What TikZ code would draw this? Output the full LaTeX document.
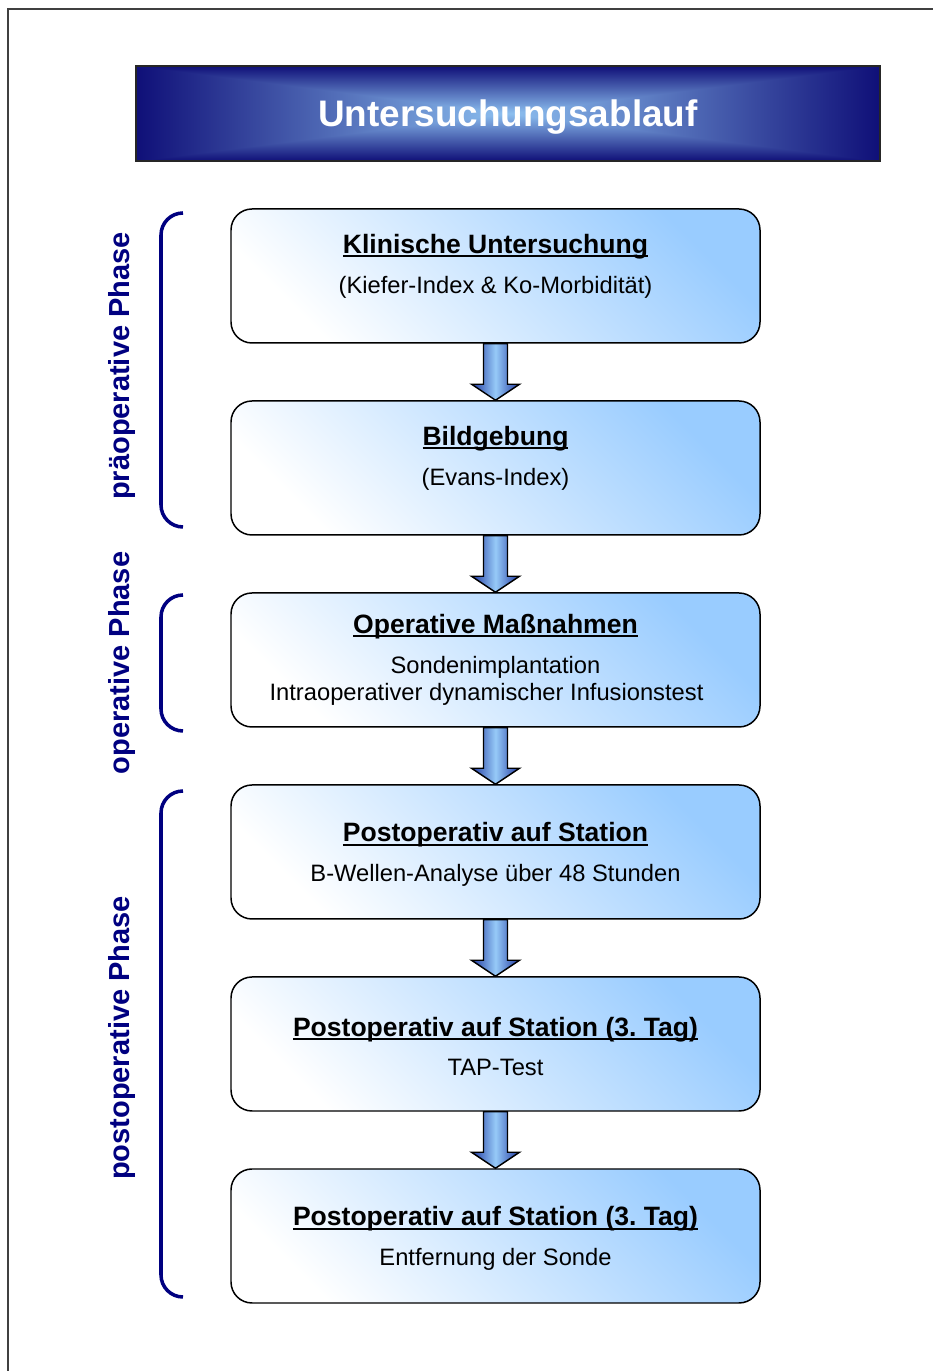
\documentclass[tikz,border=0pt]{standalone}
\usepackage{fontspec}
\setmainfont{Liberation Sans}
\frenchspacing
\usetikzlibrary{
  calc,      % 坐标计算（箭头轮廓）
  positioning
}
\definecolor{phasenavy}{RGB}{0,0,128}
\definecolor{boxblue}{RGB}{153,204,255}
\definecolor{arrowdark}{RGB}{32,56,160}
\definecolor{arrowlight}{RGB}{150,202,248}
% 标题栏：由中心向四边变暗的矩形渐变（路径对应 25bp--75bp）
\pgfdeclarefunctionalshading{headbar}{\pgfpointorigin}{\pgfpoint{100bp}{100bp}}{}{
  50 sub abs exch 50 sub abs 2 copy lt {exch} if pop 25 div
  dup 1 gt {pop 1} if
  dup -0.49 mul 0.55 add exch dup -0.69 mul 0.75 add exch -0.47 mul 0.94 add
}
% 加粗并带下划线的框标题
\newcommand{\boxtitle}[1]{%
  \setbox0\hbox{\bfseries\fontsize{15.1}{18}\selectfont #1}%
  \rlap{\rule[-0.16em]{\wd0}{1.1pt}}\box0}
\tikzset{
  headbar/.style={
    rectangle,
    shade,
    shading=headbar,
    draw=black!85,
    line width=0.8pt,
    minimum width=14.88cm,
    minimum height=1.9cm,
    text depth=0pt,
    text=white,
    font=\bfseries\fontsize{21}{25}\selectfont
  },
  phasebox/.style={
    rectangle,
    rounded corners=0.42cm,
    draw=black,
    line width=0.85pt,
    top color=boxblue,
    bottom color=white,
    shading angle=-45,
    minimum width=10.58cm,
    minimum height=2.68cm
  },
  boxtext/.style={
    align=center,
    font=\fontsize{13.5}{15.9}\selectfont
  },
  blockarrow/.style={
    draw=black,
    line width=0.8pt,
    left color=arrowdark,
    right color=arrowdark,
    middle color=arrowlight
  },
  phaselabel/.style={
    rotate=90,
    text=phasenavy,
    font=\bfseries\fontsize{16.5}{20}\selectfont
  },
  phasebrace/.style={
    draw=phasenavy,
    line width=2pt,
    rounded corners=0.44cm
  }
}

\begin{document}
\begin{tikzpicture}
    \useasboundingbox (0,0) rectangle (18.66,27.42);

    % --- 外框 (只有左边和上边) ---
    \draw[black!75, line width=0.8pt] (0.16,0) -- (0.16,27.24) -- (18.66,27.24);

    % --- 标题栏 ---
    \node[headbar] (kopf) at (10.16,25.15) {Untersuchungsablauf};

    % --- 六个流程框 ---
    \node[phasebox] (klinik) at (9.91,21.9) {};
    \node[phasebox] (bild) at (9.91,18.06) {};
    \node[phasebox] (op) at (9.91,14.22) {};
    \node[phasebox] (station) at (9.91,10.38) {};
    \node[phasebox] (tap) at (9.91,6.54) {};
    \node[phasebox] (sonde) at (9.91,2.7) {};

    % 框内文字
    \node[boxtext] (klinik-text) at ([yshift=0.2cm]klinik.center)
      {\boxtitle{Klinische Untersuchung}\\[6.7pt] (Kiefer-Index \& Ko-Morbidität)};
    \node[boxtext] (bild-text) at ([yshift=0.2cm]bild.center)
      {\boxtitle{Bildgebung}\\[6.7pt] (Evans-Index)};
    \node[boxtext] (op-text) at (op.center)
      {\boxtitle{Operative Maßnahmen}\\[6.7pt] Sondenimplantation\\
       Intraoperativer dynamischer Infusionstest\hspace*{0.36cm}};
    \node[boxtext] (station-text) at ([yshift=-0.05cm]station.center)
      {\boxtitle{Postoperativ auf Station}\\[6.7pt] B-Wellen-Analyse über 48 Stunden};
    \node[boxtext] (tap-text) at ([yshift=-0.05cm]tap.center)
      {\boxtitle{Postoperativ auf Station (3. Tag)}\\[6.7pt] TAP-Test};
    \node[boxtext] (sonde-text) at ([yshift=-0.05cm]sonde.center)
      {\boxtitle{Postoperativ auf Station (3. Tag)}\\[6.7pt] Entfernung der Sonde};

    % --- 框之间的块状箭头 ---
    \foreach \a/\b in {klinik/bild, bild/op, op/station, station/tap, tap/sonde}
      \draw[blockarrow] ($(\a.south)+(-0.24,0)$) -- ($(\b.north)+(-0.24,0.32)$)
        -- ($(\b.north)+(-0.48,0.32)$) -- (\b.north) -- ($(\b.north)+(0.48,0.32)$)
        -- ($(\b.north)+(0.24,0.32)$) -- ($(\a.south)+(0.24,0)$) -- cycle;

    % --- 左侧阶段括号与文字 ---
    \draw[phasebrace] (3.66,23.16) -- (3.22,23.16) -- (3.22,16.88) -- (3.66,16.88);
    \draw[phasebrace] (3.66,15.52) -- (3.22,15.52) -- (3.22,12.8) -- (3.66,12.8);
    \draw[phasebrace] (3.66,11.6) -- (3.22,11.6) -- (3.22,1.48) -- (3.66,1.48);

    \node[phaselabel] (prae) at (2.44,20.1) {präoperative Phase};
    \node[phaselabel] (intra) at (2.44,14.16) {operative Phase};
    \node[phaselabel] (post) at (2.44,6.66) {postoperative Phase};

\end{tikzpicture}
\end{document}
